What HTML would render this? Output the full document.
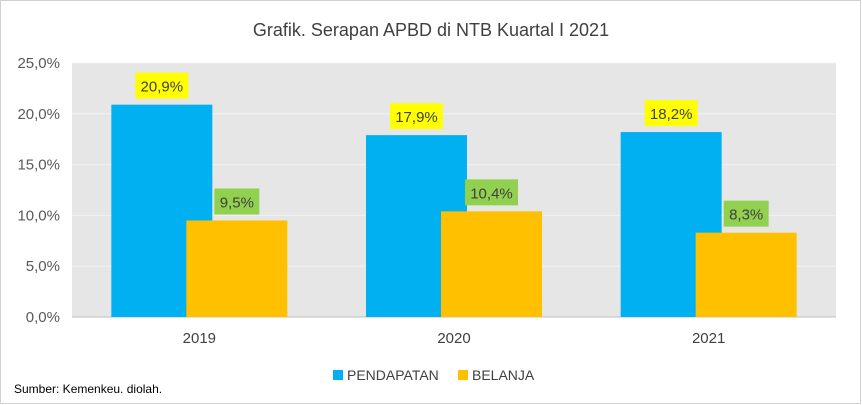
<!DOCTYPE html>
<html><head><meta charset="utf-8"><style>
body{margin:0;background:#fff;}
svg{display:block;font-family:"Liberation Sans",sans-serif;}
</style></head><body>
<svg id="chart" width="862" height="405">
<rect x="0.5" y="0.5" width="860" height="403" fill="#fff" stroke="#d0d0d0"/>
<text x="431" y="36" text-anchor="middle" font-size="18" fill="#404040">Grafik. Serapan APBD di NTB Kuartal I 2021</text>
<rect x="72" y="63" width="764" height="254" fill="#e6e6e6"/>
<g id="grid"></g><g id="bars"></g>
<g>
<rect x="333" y="370" width="10" height="10" fill="#00b0f0"/>
<text x="347" y="380" font-size="14" fill="#404040">PENDAPATAN</text>
<rect x="458" y="370" width="10" height="10" fill="#ffc000"/>
<text x="472" y="380" font-size="14" fill="#404040">BELANJA</text>
</g>
<text x="14" y="393" font-size="12" fill="#000">Sumber: Kemenkeu. diolah.</text>
</svg>
<script>
const categories=["2019","2020","2021"];
const pendapatan=[20.9,17.9,18.2];
const belanja=[9.5,10.4,8.3];
const ticks=[0,5,10,15,20,25];
const NS="http://www.w3.org/2000/svg";
const x0=72,x1=836,yTop=63,yBot=317,maxV=25;
const y=v=>yBot-(v/maxV)*(yBot-yTop);
const bw=(x1-x0)/categories.length;
const cx=i=>x0+bw*(i+0.5);
function mk(t,a,p){const e=document.createElementNS(NS,t);for(const k in a)e.setAttribute(k,a[k]);p.appendChild(e);return e;}
const fmt=v=>v.toFixed(1).replace('.',',');
const grid=document.getElementById('grid'),bars=document.getElementById('bars');
ticks.forEach(t=>{
 const l=mk('line',{x1:x0,x2:x1,y1:y(t),y2:y(t),stroke:t===0?'#bfbfbf':'#f2f2f2','stroke-width':1},grid);
 
 
 const tx=mk('text',{x:60,y:y(t)+5,'text-anchor':'end','font-size':15,fill:'#595959'},grid);
 tx.textContent=fmt(t)+'%';
 
 
});
categories.forEach((c,i)=>{
 const series=[[pendapatan[i],-88,'#00b0f0','#ffff00','pendapatan'],[belanja[i],-13,'#ffc000','#92d050','belanja']];
 series.forEach(([v,off,col,lc,nm])=>{
  const bx=cx(i)+off;
  const r=mk('rect',{x:bx,y:y(v),width:101,height:yBot-y(v),fill:col},bars);
  
  
  const lw=fmt(v).length>3?53:45;
  const lb=mk('rect',{x:bx+50.5-lw/2,y:y(v)-32,width:lw,height:26,fill:lc},bars);
  
  
  const t=mk('text',{x:bx+50.5,y:y(v)-13,'text-anchor':'middle','font-size':15,fill:'#404040'},bars);
  t.textContent=fmt(v)+'%';
  
  
 });
 const ct=mk('text',{x:cx(i),y:343,'text-anchor':'middle','font-size':15,fill:'#404040'},bars);
 ct.textContent=c;
 
 
});
</script>
</body></html>
